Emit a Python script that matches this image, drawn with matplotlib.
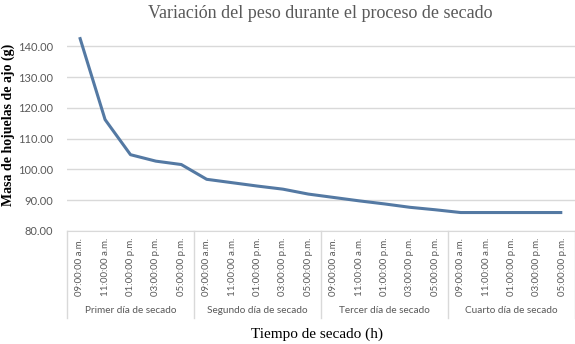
import matplotlib.pyplot as plt
import matplotlib.transforms as mtransforms

# horas de medicion y dias de secado
horas = ["09:00:00 a.m.", "11:00:00 a.m.", "01:00:00 p.m.", "03:00:00 p.m.", "05:00:00 p.m."]
dias = ["Primer día de secado", "Segundo día de secado", "Tercer día de secado", "Cuarto día de secado"]

# masa de hojuelas (g) por dia
masa_dia1 = [143.0, 116.2, 104.8, 102.7, 101.6]
masa_dia2 = [96.8, 95.7, 94.6, 93.6, 92.0]
masa_dia3 = [90.9, 89.8, 88.8, 87.7, 86.9]
masa_dia4 = [86.0, 86.0, 86.0, 86.0, 86.0]

y_ticks = [80, 90, 100, 110, 120, 130, 140]

masa = masa_dia1 + masa_dia2 + masa_dia3 + masa_dia4
etiquetas = horas * len(dias)
x = list(range(len(masa)))

gris = "#595959"
linea_gris = "#d9d9d9"

fig = plt.figure(figsize=(5.75, 3.44), dpi=100)
ax = fig.add_axes([0.1165, 0.3285, 0.8835, 0.5814])

ax.plot(x, masa, color="#5479a3", linewidth=2.2, solid_capstyle="butt",
        solid_joinstyle="round", clip_on=False, zorder=3)

ax.set_xlim(-0.5, len(masa) - 0.5)
ax.set_ylim(80, 145)
ax.set_yticks(y_ticks)
ax.set_yticklabels(["%.2f" % v for v in y_ticks], fontsize=8, color=gris, family="Lato")
ax.tick_params(axis="y", length=0, pad=10)
ax.yaxis.grid(True, color=linea_gris, linewidth=1)
ax.set_axisbelow(True)

ax.set_xticks(x)
ax.set_xticklabels(etiquetas, rotation=90, fontsize=7, color=gris, family="Lato")
ax.tick_params(axis="x", length=0, pad=5)

for s in ["top", "right", "left"]:
    ax.spines[s].set_visible(False)
ax.spines["bottom"].set_color(linea_gris)

# separadores y nombres de cada dia bajo el eje
trans = mtransforms.blended_transform_factory(ax.transData, ax.transAxes)
for i in range(len(dias) + 1):
    xs = i * len(horas) - 0.5
    ax.plot([xs, xs], [0, -0.435], color=linea_gris, linewidth=1,
            transform=trans, clip_on=False)
for i, d in enumerate(dias):
    xc = i * len(horas) + (len(horas) - 1) / 2
    ax.text(xc, -0.40, d, transform=trans, ha="center", va="center",
            fontsize=7.2, color=gris, family="Lato")

fig.text(0.557, 0.962, "Variación del peso durante el proceso de secado",
         ha="center", va="center", fontsize=13, color=gris, family="Liberation Serif")
fig.text(0.552, 0.028, "Tiempo de secado (h)", ha="center", va="center",
         fontsize=11, color="black", family="Liberation Serif")
fig.text(0.015, 0.637, "Masa de hojuelas de ajo (g)", ha="center", va="center",
         rotation=90, fontsize=10, fontweight="bold", color="black",
         family="Liberation Serif")

fig.savefig("out.png", dpi=100)
